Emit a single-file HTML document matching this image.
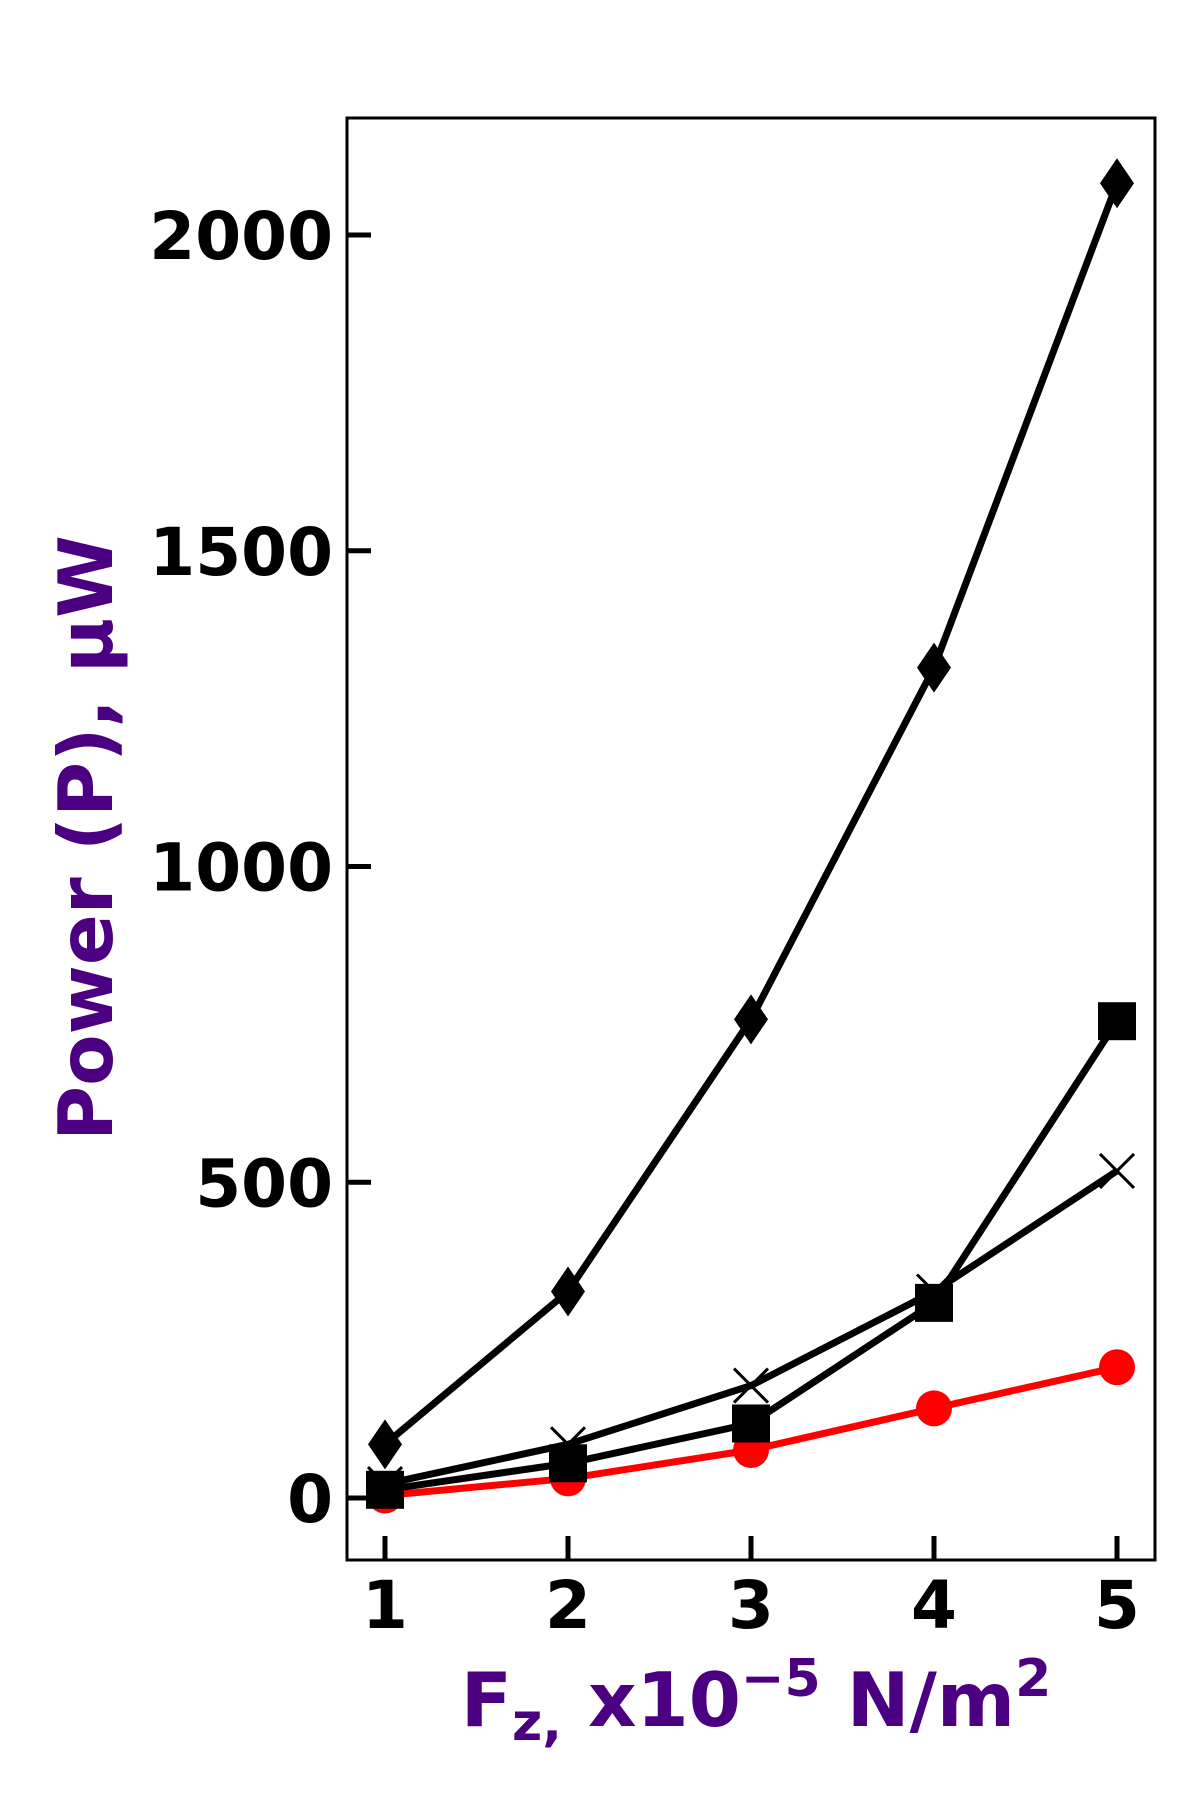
<!DOCTYPE html>
<html><head><meta charset="utf-8"><style>
html,body{margin:0;padding:0;background:#fff}
svg{display:block}
text{font-family:"DejaVu Sans","Liberation Sans",sans-serif;font-weight:bold}
</style></head><body>
<svg id="chart" width="1200" height="1800" viewBox="0 0 1200 1800" xmlns="http://www.w3.org/2000/svg">
<rect x="0" y="0" width="1200" height="1800" fill="#fff"/>
<g id="series"></g>
<g id="axes"></g>
<text transform="translate(112,838) rotate(-90)" text-anchor="middle" font-size="75" fill="#4B0082">Power (P), μW</text>
<text x="756" y="1726" text-anchor="middle" font-size="75" fill="#4B0082">F<tspan font-size="52" dy="14">z,</tspan><tspan dy="-14"> x10</tspan><tspan font-size="52" dy="-30">−5</tspan><tspan dy="30"> N/m</tspan><tspan font-size="52" dy="-30">2</tspan></text>
</svg>
<script>
const categories=[1,2,3,4,5];
const diamondValues=[85,327,758,1315,2082];
const squareValues=[13,55,118,309,755];
const crossValues=[22,85,178,327,518];
const circleValues=[4,31,76,142,207];
const yTicks=[0,500,1000,1500,2000];
const xTicks=[1,2,3,4,5];

const L=347,R=1155,T=118,B=1560;
const xScale=v=>385+(v-1)*183;
const yScale=v=>1498-v*0.6315;
const NS='http://www.w3.org/2000/svg';
const sg=document.getElementById('series');
const ag=document.getElementById('axes');
function mk(tag,attrs,parent){const e=document.createElementNS(NS,tag);for(const k in attrs)e.setAttribute(k,attrs[k]);parent.appendChild(e);return e;}

function drawSeries(vals,color,marker,name){
  const pts=vals.map((v,i)=>xScale(categories[i])+','+yScale(v)).join(' ');
  const line=mk('polyline',{points:pts,fill:'none',stroke:color,'stroke-width':7,'stroke-linejoin':'round'},sg);
  
  
  vals.forEach((v,i)=>{
    const x=xScale(categories[i]),y=yScale(v);let m;
    if(marker==='diamond')m=mk('polygon',{points:`${x},${y-25} ${x+17},${y} ${x},${y+25} ${x-17},${y}`,fill:color},sg);
    else if(marker==='square')m=mk('rect',{x:x-19,y:y-19,width:38,height:38,fill:color},sg);
    else if(marker==='circle')m=mk('circle',{cx:x,cy:y,r:18,fill:color},sg);
    else m=mk('path',{d:`M${x-17},${y-17}L${x+17},${y+17}M${x-17},${y+17}L${x+17},${y-17}`,stroke:color,'stroke-width':3,fill:'none'},sg);
    
    
  });
}
drawSeries(circleValues,'#ff0000','circle','circle-series');
drawSeries(crossValues,'#000','cross','cross-series');
drawSeries(squareValues,'#000','square','square-series');
drawSeries(diamondValues,'#000','diamond','diamond-series');

const frame=mk('rect',{x:L,y:T,width:R-L,height:B-T,fill:'none',stroke:'#000','stroke-width':3},ag);


yTicks.forEach(v=>{
  const y=yScale(v);
  const t=mk('line',{x1:L,x2:L+24,y1:y,y2:y,stroke:'#000','stroke-width':5},ag);
  
  
  const lb=mk('text',{x:333,y:y+24,'text-anchor':'end','font-size':66,fill:'#000'},ag);
  lb.textContent=v;
  
  
});
xTicks.forEach(v=>{
  const x=xScale(v);
  const t=mk('line',{x1:x,x2:x,y1:B,y2:B-24,stroke:'#000','stroke-width':5},ag);
  
  
  const lb=mk('text',{x:x,y:1628,'text-anchor':'middle','font-size':66,fill:'#000'},ag);
  lb.textContent=v;
  
  
});
</script>
</body></html>
